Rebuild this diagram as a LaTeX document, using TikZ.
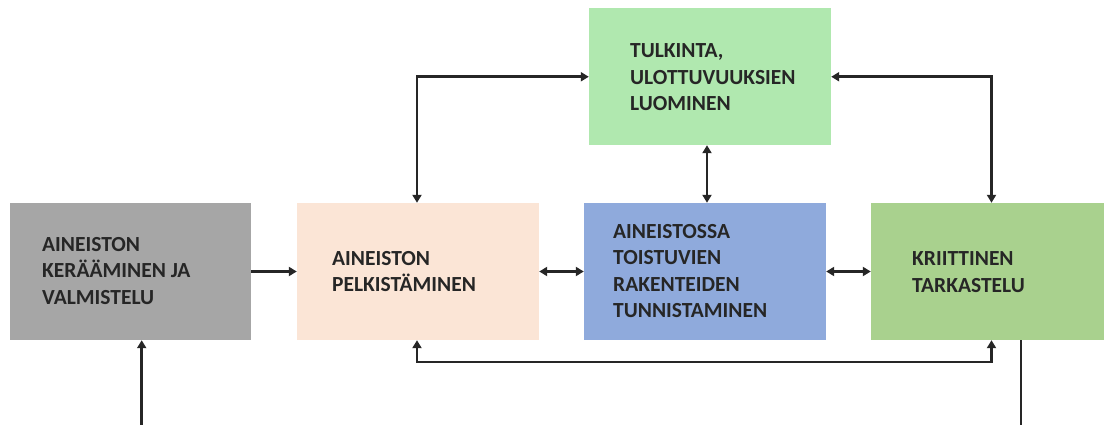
\documentclass[tikz,border=0pt]{standalone}
\usepackage{fontspec}
\setmainfont{Carlito}
\usetikzlibrary{arrows.meta}
\definecolor{graybox}{HTML}{A6A6A6}
\definecolor{peachbox}{HTML}{FBE5D6}
\definecolor{bluebox}{HTML}{8FAADC}
\definecolor{greenbox}{HTML}{A9D18E}
\definecolor{mintbox}{HTML}{B0E8AF}
\definecolor{ink}{HTML}{262626}
\begin{document}
\begin{tikzpicture}[x=1pt,y=-1pt,
  box/.style={draw=none, inner sep=0pt, minimum height=137pt},
  label/.style={anchor=west, inner sep=0pt, align=left, text=ink,
    font=\fontsize{21.5}{26.5}\selectfont\bfseries},
  conn/.style={draw=ink, line width=2.8pt},
  >={Triangle[length=8pt,width=9pt]}]
\useasboundingbox (0,0) rectangle (1109,425);

% process boxes
\node[box, fill=graybox,  minimum width=241pt] (gray)  at (130.5,271.5) {};
\node[box, fill=peachbox, minimum width=242pt] (peach) at (418,271.5) {};
\node[box, fill=bluebox,  minimum width=242pt] (blue)  at (705,271.5) {};
\node[box, fill=greenbox, minimum width=233pt] (green) at (987.5,271.5) {};
\node[box, fill=mintbox,  minimum width=242pt, minimum height=136.5pt] (top) at (710,76.75) {};

% box texts
\node[label] (graytxt)  at (42,271)  {AINEISTON\\KERÄÄMINEN JA\\VALMISTELU};
\node[label] (peachtxt) at (332,271.5) {AINEISTON\\PELKISTÄMINEN};
\node[label] (bluetxt)  at (613,271) {AINEISTOSSA\\TOISTUVIEN\\RAKENTEIDEN\\TUNNISTAMINEN};
\node[label] (greentxt) at (912,272) {KRIITTINEN\\TARKASTELU};
\node[label] (toptxt)   at (630,77.5)  {TULKINTA,\\ULOTTUVUUKSIEN\\LUOMINEN};

% guide positions for the routed connectors
\coordinate (lx) at (417,0);
\coordinate (rx) at (991.5,0);
\coordinate (mx) at (707,0);
\coordinate (gx) at (141.7,0);
\coordinate (fx) at (1021,0);
\coordinate (by) at (0,362);
\coordinate (low) at (0,428);

% connectors
\draw[conn,->]  (gray.east) -- (peach.west);
\draw[conn,<->] (peach.east) -- (blue.west);
\draw[conn,<->] (blue.east) -- (green.west);
\draw[conn,<->] (top.south -| mx) -- (blue.north -| mx);
\draw[conn,<->] (top.west) -| (peach.north -| lx);
\draw[conn,<->] (top.east) -| (green.north -| rx);
\draw[conn,<->] (peach.south -| lx) -- (lx |- by) -- (rx |- by) -- (green.south -| rx);
\draw[conn,->]  (green.south -| fx) -- (fx |- low) -- (gx |- low) -- (gray.south -| gx);
\end{tikzpicture}
\end{document}
